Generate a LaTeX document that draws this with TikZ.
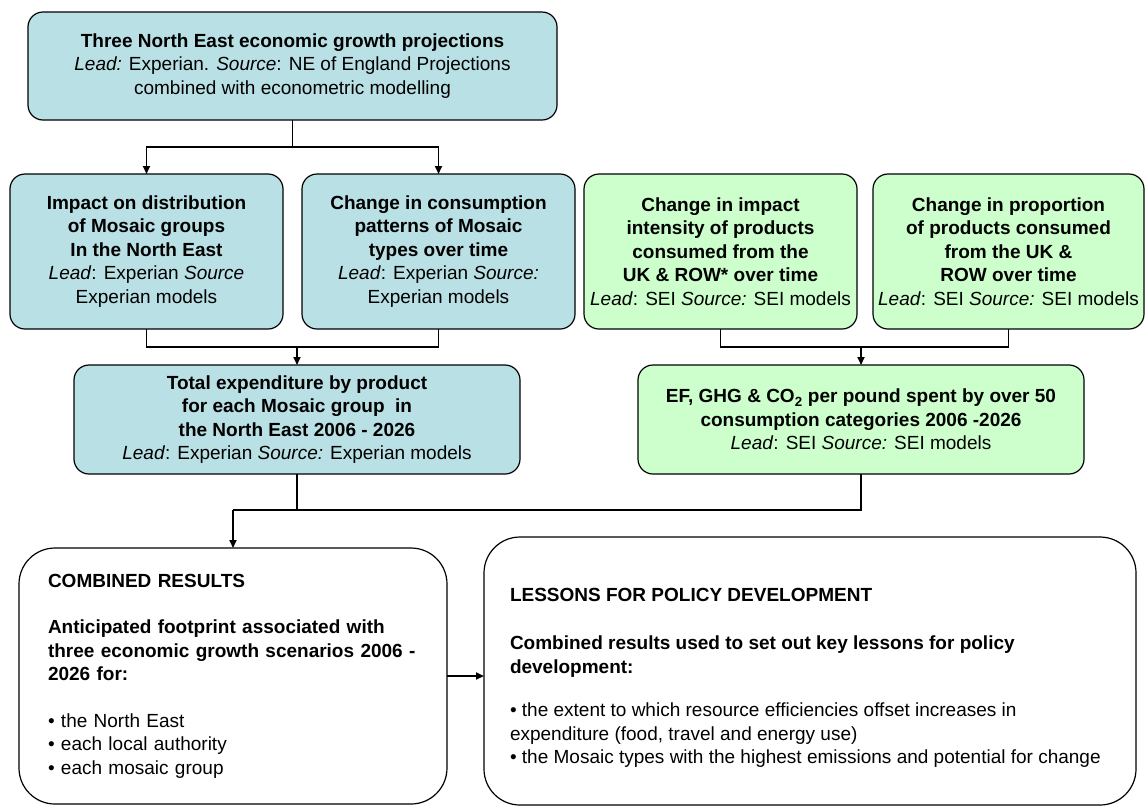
\documentclass[tikz,border=0pt]{standalone}
\usepackage{fontspec}
\setmainfont{Liberation Sans}
\usetikzlibrary{arrows.meta}
\definecolor{boxblue}{RGB}{185,224,228}
\definecolor{boxgreen}{RGB}{204,255,204}
\begin{document}
\begin{tikzpicture}[x=1pt,y=-1pt,
  every node/.style={inner sep=0pt,outer sep=0pt},
  txt/.style={font=\fontsize{19}{23.5}\selectfont},
  bluebox/.style={txt,draw=black,line width=1.2pt,fill=boxblue,rounded corners=15pt,align=center},
  greenbox/.style={txt,draw=black,line width=1.2pt,fill=boxgreen,rounded corners=15pt,align=center},
  whitebox/.style={txt,draw=black,line width=1.2pt,fill=white,rounded corners=36pt,align=left},
  conn/.style={line width=1.8pt},
  arr/.style={conn,-{Triangle[length=8pt,width=7pt]}}]
\useasboundingbox (0,0) rectangle (1145,807);

\node[bluebox,minimum width=529pt,minimum height=108pt] (top) at (292.5,66)
 {\textbf{Three North East economic growth projections}\\
  \textit{Lead:} Experian. \textit{Source}: NE of England Projections\\
  combined with econometric modelling};

\node[bluebox,minimum width=273pt,minimum height=155pt] (A) at (146.5,251.5)
 {\textbf{Impact on distribution}\\ \textbf{of Mosaic groups}\\ \textbf{In the North East}\\
  \textit{Lead}: Experian \textit{Source}\\ Experian models};
\node[bluebox,minimum width=273pt,minimum height=155pt] (B) at (438.5,251.5)
 {\textbf{Change in consumption}\\ \textbf{patterns of Mosaic}\\ \textbf{types over time}\\
  \textit{Lead}: Experian \textit{Source:}\\ Experian models};
\node[greenbox,minimum width=273pt,minimum height=155pt] (C) at (720.5,251.5)
 {\textbf{Change in impact}\\ \textbf{intensity of products}\\ \textbf{consumed from the}\\
  \textbf{UK \& ROW* over time}\\ \textit{Lead}: SEI \textit{Source:} SEI models};
\node[greenbox,minimum width=271pt,minimum height=155pt] (D) at (1008.5,251.5)
 {\textbf{Change in proportion}\\ \textbf{of products consumed}\\ \textbf{from the UK \&}\\
  \textbf{ROW over time}\\ \textit{Lead}: SEI \textit{Source:} SEI models};

\node[bluebox,minimum width=446pt,minimum height=109pt] (E) at (297,419.5)
 {\textbf{Total expenditure by product}\\ \textbf{for each Mosaic group\ \ in}\\
  \textbf{the North East 2006 - 2026}\\ \textit{Lead}: Experian \textit{Source:} Experian models};
\node[greenbox,minimum width=446pt,minimum height=109pt] (F) at (861,419.5)
 {\textbf{EF, GHG \& CO\textsubscript{2} per pound spent by over 50}\\
  \textbf{consumption categories 2006 -2026}\\ \textit{Lead}: SEI \textit{Source:} SEI models};

\node[whitebox,minimum width=428pt,minimum height=256pt,text width=370pt] (G) at (233,676)
 {\textbf{COMBINED RESULTS}\\[23pt]
  \textbf{Anticipated footprint associated with}\\
  \textbf{three economic growth scenarios 2006 -}\\
  \textbf{2026 for:}\\[23pt]
  • the North East\\ • each local authority\\ • each mosaic group};
\node[whitebox,minimum width=652pt,minimum height=268pt] (H) at (810,671) {};
\node[txt,align=left,anchor=north west] (Ht) at (510,588)
 {\textbf{LESSONS FOR POLICY DEVELOPMENT}\\[25pt]
  \textbf{Combined results used to set out key lessons for policy}\\
  \textbf{development:}\\[20pt]
  • the extent to which resource efficiencies offset increases in\\
  expenditure (food, travel and energy use)\\
  • the Mosaic types with the highest emissions and potential for change};

\coordinate (j1) at (292.5,147);
\coordinate (m1) at (297,347);
\coordinate (m2) at (861,347);
\coordinate (m4) at (233,510);

\draw[conn] (top.south) -- (j1);
\draw[arr] (j1) -| (A.north);
\draw[arr] (j1) -| (B.north);

\draw[conn] (A.south) |- (m1) -| (B.south);
\draw[arr] (m1) -- (E.north);
\draw[conn] (C.south) |- (m2) -| (D.south);
\draw[arr] (m2) -- (F.north);

\draw[conn] (F.south) |- (m4);
\draw[conn] (E.south) -- (E.south |- m4);
\draw[arr] (m4) -- (G.north);
\draw[arr] (G.east) -- (G.east -| H.west);
\end{tikzpicture}
\end{document}
